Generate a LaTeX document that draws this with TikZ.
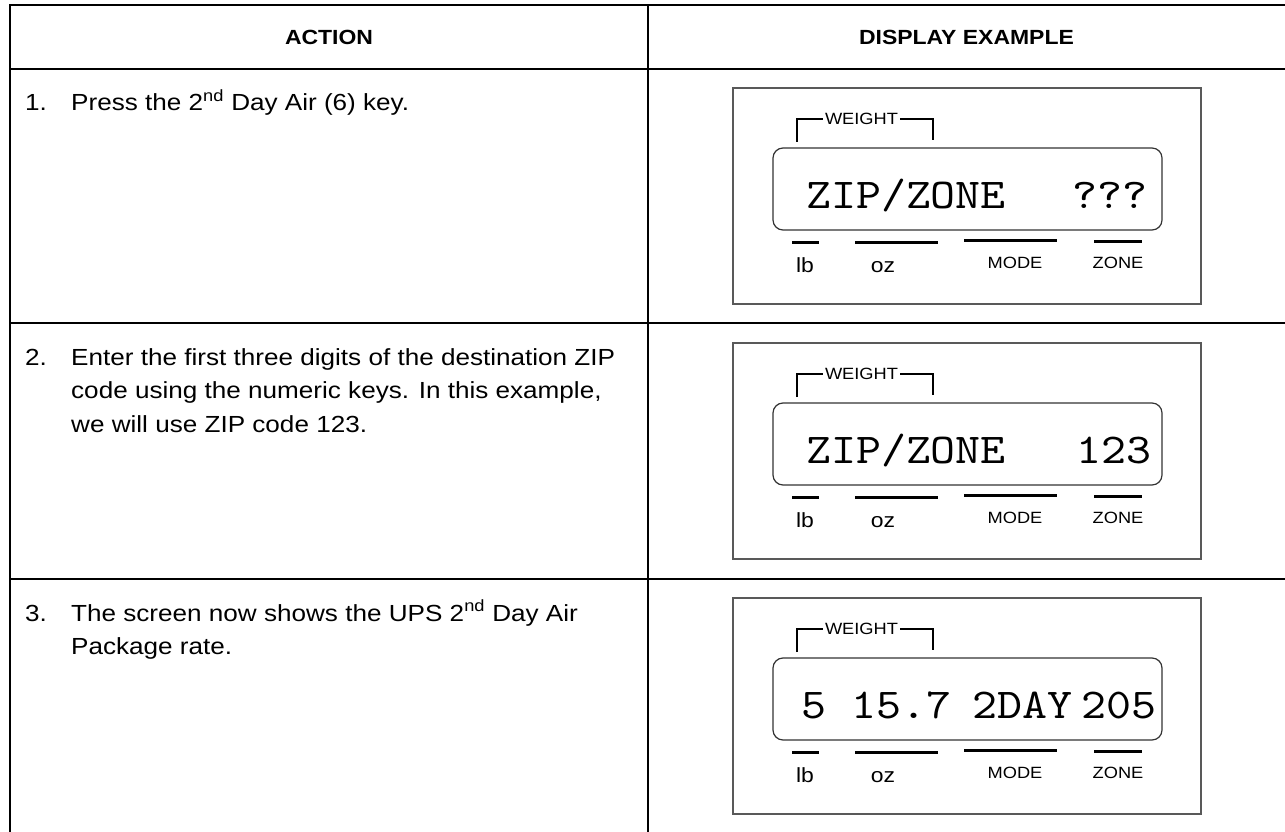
\documentclass[tikz,border=0pt]{standalone}
\usepackage{fontspec}
\setmainfont[FakeStretch=1.12]{Liberation Sans}
\newfontfamily\lcdfont[FakeStretch=1.12]{lmmono10-regular.otf}

\tikzset{
  tblrule/.style={line width=2.3pt},
  panel/.style={line width=1.2pt, draw=black!65},
  lcdwin/.style={line width=1.2pt, draw=black!80, rounded corners=10pt},
  segbar/.style={line width=3pt},
  brk/.style={line width=2.6pt},
  lcdtxt/.style={anchor=base, inner sep=0pt, font=\lcdfont\fontsize{42.5}{42.5}\selectfont},
  seglbl/.style={anchor=base, inner sep=0pt, font=\fontsize{20.5}{24}\selectfont},
  modelbl/.style={anchor=base, inner sep=0pt, font=\fontsize{16.3}{20}\selectfont},
  wtlbl/.style={inner sep=2pt, font=\fontsize{16.3}{20}\selectfont},
  hdtxt/.style={inner sep=0pt, font=\bfseries\fontsize{20.5}{24}\selectfont},
  acttxt/.style={anchor=base west, inner sep=0pt, align=left, font=\fontsize{23.3}{33.5}\selectfont}
}

\begin{document}
\begin{tikzpicture}[x=1pt,y=-1pt]
\useasboundingbox (0,0) rectangle (1285,832);

% table
\draw[tblrule] (1285,5) -- (10,5) -- (10,832);
\draw[tblrule] (648,5) -- (648,832);
\draw[tblrule] (10,69) -- (1285,69);
\draw[tblrule] (10,323) -- (1285,323);
\draw[tblrule] (10,579) -- (1285,579);

\node[hdtxt] (act) at (329,37) {ACTION};
\node[hdtxt] (disp) at (966.5,37) {DISPLAY EXAMPLE};

% actions (base = last line)
\node[acttxt] (n1) at (25,111) {1.};
\node[acttxt] (s1) at (71,111) {Press the 2\textsuperscript{nd} Day Air (6) key.};
\node[acttxt] (n2) at (25,365) {2.};
\node[acttxt] (s2) at (71,432) {Enter the first three digits of the destination ZIP\\code using the numeric keys. In this example,\\we will use ZIP code 123.};
\node[acttxt] (n3) at (25,621) {3.};
\node[acttxt] (s3) at (71,654.5) {The screen now shows the UPS 2\textsuperscript{nd} Day Air\\Package rate.};

% display panels
\foreach \r/\b in {1/88,2/343,3/598}{
  \draw[panel] (733,\b) rectangle (1201,\b+216);
  \draw[lcdwin] (773,\b+60) rectangle (1162,\b+142);
  \node[wtlbl] (wt\r) at (861.5,\b+31) {WEIGHT};
  \draw[brk] (797,\b+54) -- (797,\b+31) -- (wt\r.west);
  \draw[brk] (wt\r.east) -- (933,\b+31) -- (933,\b+52);
  \draw[segbar] (792,\b+154) -- (819,\b+154);
  \draw[segbar] (855,\b+154) -- (938,\b+154);
  \draw[segbar] (964,\b+152) -- (1057,\b+152);
  \draw[segbar] (1094,\b+153) -- (1142,\b+153);
  \node[seglbl] (lb\r) at (805,\b+184) {lb};
  \node[seglbl] (oz\r) at (883,\b+184) {oz};
  \node[modelbl] (md\r) at (1015,\b+180) {MODE};
  \node[modelbl] (zn\r) at (1118,\b+180) {ZONE};
}

\node[lcdtxt] (zip1) at (906,208) {ZIP/ZONE};
\node[lcdtxt] (val1) at (1110,208) {???};
\node[lcdtxt] (zip2) at (906,463) {ZIP/ZONE};
\node[lcdtxt] (val2) at (1114,463) {123};
\node[lcdtxt] (lbs3) at (814,718) {5};
\node[lcdtxt] (ozs3) at (901,718) {15.7};
\node[lcdtxt] (mod3) at (1022,718) {2DAY};
\node[lcdtxt] (zon3) at (1119,718) {205};

\end{tikzpicture}
\end{document}
